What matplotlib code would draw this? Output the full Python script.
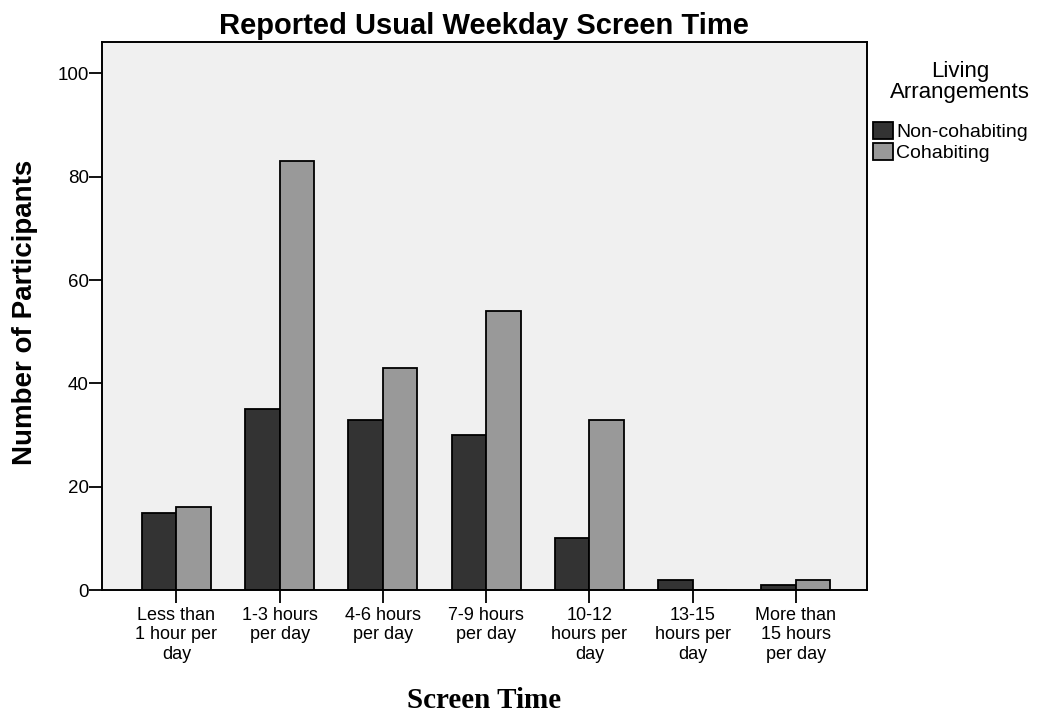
from matplotlib import pyplot as plt
import numpy as np

categories = ['Less than\n1 hour per\nday', '1-3 hours\nper day', '4-6 hours\nper day',
              '7-9 hours\nper day', '10-12\nhours per\nday', '13-15\nhours per\nday',
              'More than\n15 hours\nper day']
non_cohabiting = [15, 35, 33, 30, 10, 2, 1]
cohabiting = [16, 83, 43, 54, 33, 0, 2]
series_names = ['Non-cohabiting', 'Cohabiting']

plt.rcParams['font.family'] = ['Liberation Sans', 'DejaVu Sans']

fig = plt.figure(figsize=(10.41, 7.17), dpi=100)
ax = fig.add_axes([0.098, 0.177, 0.735, 0.764])
ax.set_facecolor('#f0f0f0')

x = np.arange(len(categories))
w = 1 / 3
ax.bar(x - w / 2, non_cohabiting, w, color='#333333', edgecolor='black', linewidth=1.3,
       label=series_names[0])
ax.bar(x + w / 2, cohabiting, w, color='#999999', edgecolor='black', linewidth=1.3,
       label=series_names[1])

ax.set_xlim(-0.72, 6.69)
ax.set_ylim(0, 106)
ax.set_yticks([0, 20, 40, 60, 80, 100])
ax.set_xticks(x)
ax.set_xticklabels(categories, fontsize=13, linespacing=1.2)
ax.tick_params(axis='y', labelsize=13.5, length=9.5, width=1.3, pad=0)
ax.tick_params(axis='x', length=9, width=1.3, pad=3)
for s in ax.spines.values():
    s.set_linewidth(1.4)

fig.text(0.465, 1 - 26 / 717, 'Reported Usual Weekday Screen Time', fontsize=21,
         fontweight='bold', ha='center', va='center')
fig.text(25 / 1041, 1 - 312 / 717, 'Number of Participants', fontsize=20, fontweight='bold',
         rotation=90, ha='center', va='center')
fig.text(484 / 1041, 1 - 700 / 717, 'Screen Time', fontsize=21, fontweight='bold',
         family='Liberation Serif', ha='center', va='center')

# legend title drawn separately so it sits higher above the entries
fig.text(960 / 1041, 1 - 82 / 717, 'Living\nArrangements', fontsize=16, ha='center',
         va='center', linespacing=1.0)
leg = ax.legend(loc='upper left', bbox_to_anchor=(873 / 1041, 1 - 122 / 717),
                bbox_transform=fig.transFigure, frameon=False, fontsize=14,
                handlelength=1.05, handleheight=0.95, handletextpad=0.15,
                labelspacing=0.1, borderaxespad=0, borderpad=0)

fig.savefig('out.png', dpi=100)
